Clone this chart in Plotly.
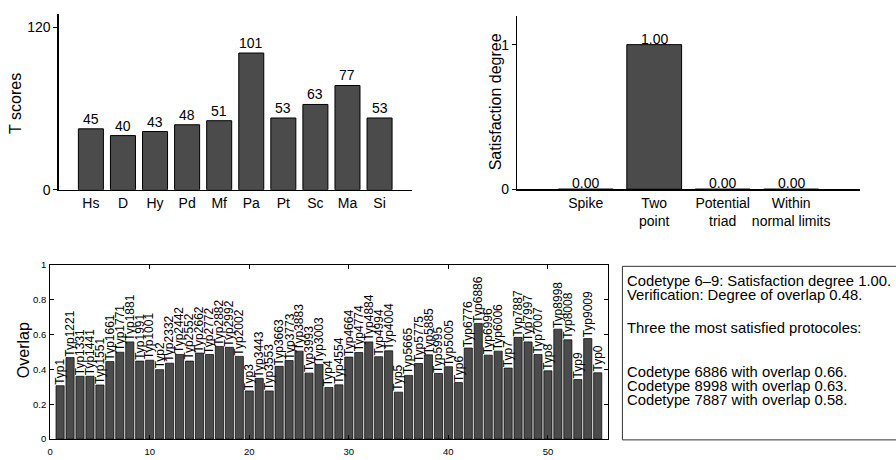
import plotly.graph_objects as go

# ---------------- data ----------------
scales = ["Hs", "D", "Hy", "Pd", "Mf", "Pa", "Pt", "Sc", "Ma", "Si"]
t_scores = [45, 40, 43, 48, 51, 101, 53, 63, 77, 53]

codetypes = ["Spike", "Two<br>point", "Potential<br>triad", "Within<br>normal limits"]
satisfaction = [0.00, 1.00, 0.00, 0.00]

protocols = ["Typ1", "Typ1221", "Typ1331", "Typ1441", "Typ1551", "Typ1661", "Typ1771",
             "Typ1881", "Typ1991", "Typ1001", "Typ2", "Typ2332", "Typ2442", "Typ2552",
             "Typ2662", "Typ2772", "Typ2882", "Typ2992", "Typ2002", "Typ3", "Typ3443",
             "Typ3553", "Typ3663", "Typ3773", "Typ3883", "Typ3993", "Typ3003", "Typ4",
             "Typ4554", "Typ4664", "Typ4774", "Typ4884", "Typ4994", "Typ4004", "Typ5",
             "Typ5665", "Typ5775", "Typ5885", "Typ5995", "Typ5005", "Typ6", "Typ6776",
             "Typ6886", "Typ6996", "Typ6006", "Typ7", "Typ7887", "Typ7997", "Typ7007",
             "Typ8", "Typ8998", "Typ8008", "Typ9", "Typ9009", "Typ0"]
overlap = [0.306, 0.467, 0.360, 0.360, 0.310, 0.444, 0.498, 0.557, 0.447, 0.452,
           0.398, 0.435, 0.485, 0.447, 0.493, 0.485, 0.531, 0.526, 0.474, 0.276,
           0.348, 0.276, 0.417, 0.450, 0.504, 0.378, 0.428, 0.296, 0.311, 0.470,
           0.496, 0.557, 0.472, 0.506, 0.269, 0.365, 0.433, 0.483, 0.376, 0.415,
           0.324, 0.522, 0.663, 0.481, 0.504, 0.407, 0.583, 0.557, 0.485, 0.391,
           0.630, 0.569, 0.341, 0.576, 0.380]

info_lines = [
    "Codetype 6\u20139: Satisfaction degree 1.00.",
    "Verification: Degree of overlap 0.48.",
    "Three the most satisfied protocoles:",
    "Codetype 6886 with overlap 0.66.",
    "Codetype 8998 with overlap 0.63.",
    "Codetype 7887 with overlap 0.58.",
]

# ---------------- style ----------------
W, H = 896, 460
FONT = "Liberation Sans, Arial, Helvetica, sans-serif"
BAR = "#4b4b4b"


def px_x(p):
    return p / W


def px_y(p):
    return 1 - p / H


fig = go.Figure()

fig.add_trace(go.Bar(
    x=list(range(1, len(scales) + 1)), y=t_scores, width=0.78,
    marker=dict(color=BAR, line=dict(color="black", width=1)),
    xaxis="x", yaxis="y", hoverinfo="skip"))

fig.add_trace(go.Bar(
    x=list(range(1, len(codetypes) + 1)), y=satisfaction, width=0.8,
    marker=dict(color=BAR, line=dict(color="black", width=1)),
    xaxis="x2", yaxis="y2", hoverinfo="skip"))

fig.add_trace(go.Bar(
    x=list(range(1, len(protocols) + 1)), y=overlap, width=0.82,
    marker=dict(color=BAR, line=dict(color="black", width=0.7)),
    xaxis="x3", yaxis="y3", hoverinfo="skip"))

annotations = []

# value labels, top-left
for i, v in enumerate(t_scores):
    annotations.append(dict(x=i + 1, y=v, xref="x", yref="y", text=str(v),
                            showarrow=False, xanchor="center", yanchor="bottom",
                            yshift=0, font=dict(size=14, color="black", family=FONT)))
# value labels, top-right
for i, v in enumerate(satisfaction):
    annotations.append(dict(x=i + 1, y=v, xref="x2", yref="y2", text=f"{v:.2f}",
                            showarrow=False, xanchor="center", yanchor="bottom",
                            yshift=-4, font=dict(size=14, color="black", family=FONT)))
# protocol labels, bottom
for i, (name, v) in enumerate(zip(protocols, overlap)):
    annotations.append(dict(x=i + 1, y=v, xref="x3", yref="y3", text=name,
                            showarrow=False, xanchor="center", yanchor="bottom",
                            textangle=-90, borderpad=0,
                            font=dict(size=12, color="black", family=FONT)))

# axis titles
annotations.append(dict(x=px_x(13), y=px_y(100), xref="paper", yref="paper",
                        text="T scores", textangle=-90, showarrow=False,
                        xanchor="center", yanchor="middle",
                        font=dict(size=16, color="black", family=FONT)))
annotations.append(dict(x=px_x(495), y=px_y(99), xref="paper", yref="paper",
                        text="Satisfaction degree", textangle=-90, showarrow=False,
                        xanchor="center", yanchor="middle",
                        font=dict(size=16, color="black", family=FONT)))
annotations.append(dict(x=px_x(20), y=px_y(355), xref="paper", yref="paper",
                        text="Overlap", textangle=-90, showarrow=False,
                        xanchor="center", yanchor="middle",
                        font=dict(size=16, color="black", family=FONT)))

# info box text
line_y = [284, 298, 332, 378, 392, 406]
for txt, yy in zip(info_lines, line_y):
    annotations.append(dict(x=px_x(625), y=px_y(yy), xref="paper", yref="paper",
                            text=txt, showarrow=False, xanchor="left", yanchor="middle",
                            borderpad=0,
                            font=dict(size=14.8, color="black", family=FONT)))

shapes = [dict(type="rect", xref="paper", yref="paper",
               x0=px_x(621.5), x1=px_x(905), y0=px_y(447.5), y1=px_y(268.5),
               line=dict(color="#333333", width=1), fillcolor="rgba(0,0,0,0)")]

axis_font = dict(size=14, color="black", family=FONT)
small_font = dict(size=9.5, color="black", family=FONT)

fig.update_layout(
    width=W, height=H, autosize=False,
    margin=dict(l=0, r=0, t=0, b=0, pad=0),
    paper_bgcolor="white", plot_bgcolor="white",
    showlegend=False, bargap=0,
    font=dict(family=FONT, color="black"),
    annotations=annotations, shapes=shapes,
    xaxis=dict(domain=[px_x(56), px_x(410)], range=[0, 11], anchor="y",
               tickmode="array", tickvals=list(range(1, len(scales) + 1)), ticktext=scales,
               ticks="", tickangle=0, showline=True, linecolor="black", linewidth=1.5,
               showgrid=False, zeroline=False, tickfont=axis_font),
    yaxis=dict(domain=[px_y(189.5), px_y(8)], range=[0, 130], anchor="x",
               tickmode="array", tickvals=[0, 120], ticks="outside", ticklen=4,
               tickcolor="black", showline=True, linecolor="black", linewidth=1.5,
               showgrid=False, zeroline=False, tickfont=axis_font),
    xaxis2=dict(domain=[px_x(516), px_x(859.5)], range=[0, 5], anchor="y2",
                tickmode="array", tickvals=list(range(1, len(codetypes) + 1)),
                ticktext=codetypes, ticks="", tickangle=0, showline=True,
                linecolor="black", linewidth=1.5, showgrid=False, zeroline=False,
                tickfont=axis_font),
    yaxis2=dict(domain=[px_y(189), px_y(10)], range=[0, 1.2], anchor="x2",
                tickmode="array", tickvals=[0, 1], ticks="outside", ticklen=4,
                tickcolor="black", showline=True, linecolor="black", linewidth=1.5,
                showgrid=False, zeroline=False, tickfont=axis_font),
    xaxis3=dict(domain=[px_x(47.3), px_x(606.7)], range=[0, 56], anchor="y3",
                tickmode="linear", tick0=0, dtick=10, ticks="inside", ticklen=4,
                tickcolor="black", showline=True, linecolor="black", linewidth=1,
                mirror="ticks", showgrid=False, zeroline=False, tickfont=small_font,
                ticklabelstandoff=3),
    yaxis3=dict(domain=[px_y(446.7), px_y(266.7)], range=[0, 1], anchor="x3",
                tickmode="linear", tick0=0, dtick=0.2, ticks="inside", ticklen=4,
                tickcolor="black", showline=True, linecolor="black", linewidth=1,
                mirror="ticks", showgrid=False, zeroline=False, tickfont=small_font,
                ticklabelstandoff=1),
)

fig.write_html(
    "out.html",
    config={"displayModeBar": False, "staticPlot": True},
    post_script="document.body.style.margin='0';document.body.style.overflow='hidden';",
)
